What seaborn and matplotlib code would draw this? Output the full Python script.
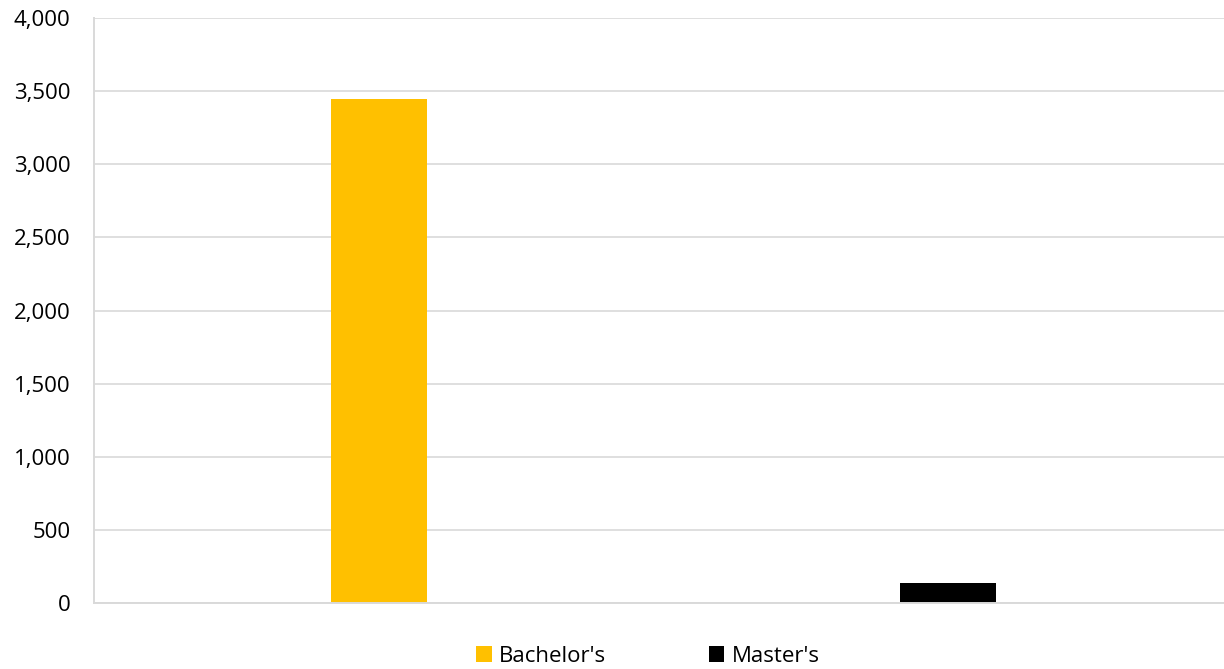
import matplotlib
matplotlib.use("Agg")
import matplotlib.pyplot as plt
import seaborn as sns
import pandas as pd

# data
degrees = ["Bachelor's", "Master's"]
counts = [3447, 136]
colors = ["#FFC000", "#000000"]
y_ticks = [0, 500, 1000, 1500, 2000, 2500, 3000, 3500, 4000]

df = pd.DataFrame({"degree": degrees, "count": counts})

sns.set_theme(style="white")
plt.rcParams["font.family"] = ["Open Sans", "DejaVu Sans"]
plt.rcParams["text.color"] = "#000000"

fig = plt.figure(figsize=(12.24, 6.69), dpi=100)
ax = fig.add_axes([94 / 1224, 1 - 603 / 669, 1139 / 1224, (603 - 18) / 669])

sns.barplot(data=df, x="degree", y="count", hue="degree",
            palette=dict(zip(degrees, colors)), width=0.168,
            dodge=False, saturation=1, legend=True, linewidth=0, ax=ax)

ax.set_xlim(-0.5, 1.5)
ax.set_ylim(0, 4000)
ax.set_yticks(y_ticks)
ax.set_yticklabels([f"{v:,}" for v in y_ticks], fontsize=16, color="#000000")
ax.set_xticks([])
ax.set_xlabel("")
ax.set_ylabel("")

grid_c = "#d9d9d9"
ax.yaxis.grid(True, color=grid_c, linewidth=1.2)
ax.set_axisbelow(True)
ax.tick_params(axis="y", length=5, width=1.2, color=grid_c, pad=12)
for side in ["top", "right"]:
    ax.spines[side].set_visible(False)
for side in ["left", "bottom"]:
    ax.spines[side].set_color(grid_c)
    ax.spines[side].set_linewidth(1.4)

handles, labels = ax.get_legend_handles_labels()
ax.get_legend().remove()
fig.legend(handles, labels, loc="center", bbox_to_anchor=(648 / 1224, 1 - 656 / 669),
           ncol=2, frameon=False, fontsize=16, handlelength=0.7, handleheight=0.7,
           handletextpad=0.35, columnspacing=4.6, borderpad=0, labelcolor="#000000")

fig.savefig("out.png", dpi=100)
